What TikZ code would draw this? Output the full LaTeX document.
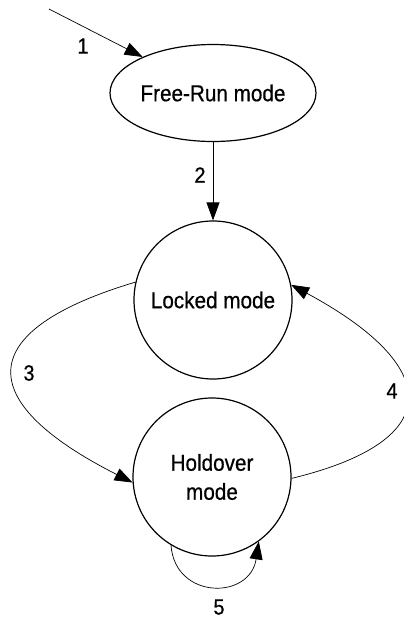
\documentclass[tikz,border=0pt]{standalone}
\usepackage{fontspec}
\setmainfont[FakeStretch=0.9,FakeBold=0.6]{Liberation Sans}
\usetikzlibrary{shapes.geometric,arrows.meta}
\begin{document}
\begin{tikzpicture}[x=1pt,y=-1pt,
  state/.style={draw=black,line width=1.2pt,circle,minimum size=158pt,inner sep=0pt,align=center,font=\fontsize{23}{29}\selectfont},
  startstate/.style={draw=black,line width=1.2pt,ellipse,minimum width=206pt,minimum height=97pt,inner sep=0pt,font=\fontsize{23}{29}\selectfont},
  conn/.style={line width=0.7pt,-{Triangle[length=18pt,width=13pt]}},
  lbl/.style={font=\fontsize{22}{26}\selectfont,inner sep=0pt}]
\useasboundingbox (0,0) rectangle (404,619);
\node[startstate] (fr) at (213,93) {Free-Run mode};
\node[state] (lk) at (213,300) {Locked mode};
\node[state] (ho) at (212,477) {Holdover\\mode};
\coordinate (in) at (49,9);
\draw[conn] (in) -- (fr);
\draw[conn] (fr.south) -- (lk.north);
\draw[conn] (lk.167) .. controls (-25,330) and (-30,400) .. (ho.184);
\draw[conn] (ho.-1) .. controls (450,440) and (440,365) .. (lk.11);
\draw[conn] (ho.-121) .. controls (175,600) and (250,600) .. (ho.-54);
\node[lbl] (l1) at (83,46) {1};
\node[lbl] (l2) at (200,175) {2};
\node[lbl] (l3) at (29,373) {3};
\node[lbl] (l4) at (392,391) {4};
\node[lbl] (l5) at (219,607) {5};
\end{tikzpicture}
\end{document}
